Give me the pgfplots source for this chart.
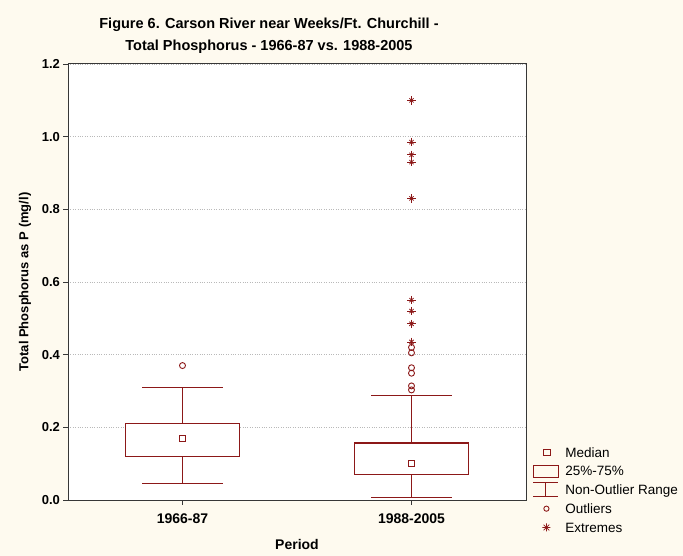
\documentclass[border=0pt]{standalone}
\usepackage{fontspec}
\setmainfont{Liberation Sans}
\usepackage{pgfplots}
\pgfplotsset{compat=1.18}
\usepgfplotslibrary{statistics}
\definecolor{bg}{RGB}{254,250,239}
\definecolor{boxred}{RGB}{140,24,24}
\definecolor{gridgray}{RGB}{185,185,185}
\definecolor{framec}{RGB}{55,55,55}
\begin{document}
\begin{tikzpicture}
\fill[bg] (-68bp,-56bp) rectangle (615bp,500bp);
\begin{axis}[
  at={(0,0)}, anchor=south west,
  scale only axis, width=458bp, height=436bp,
  axis background/.style={fill=white},
  xmin=-0.5, xmax=1.5, ymin=0, ymax=1.2,
  xtick={0,1}, xticklabels={1966-87,1988-2005},
  ytick={0,0.2,0.4,0.6,0.8,1.0,1.2},
  /pgf/number format/assume math mode=true,
  yticklabel style={font=\bfseries\fontsize{13bp}{15bp}\selectfont,
    /pgf/number format/.cd, fixed, fixed zerofill, precision=1},
  xticklabel style={font=\bfseries\fontsize{14bp}{16bp}\selectfont, yshift=-6bp},
  xtick pos=bottom, ytick pos=left, tick align=outside,
  major tick length=4.5bp,
  tick style={framec, line width=0.8pt},
  axis line style={framec, line width=1pt},
  ymajorgrids, major grid style={gridgray, dotted, line width=0.6pt},
  every axis y label/.style={at={([xshift=-43bp]rel axis cs:0,0.5)}, rotate=90, anchor=center},
  every axis x label/.style={at={([yshift=-44bp]rel axis cs:0.5,0)}, anchor=center},
  ylabel={\bfseries\fontsize{13bp}{15bp}\selectfont Total Phosphorus as P (mg/l)},
  xlabel={\bfseries\fontsize{14bp}{16bp}\selectfont Period},
  legend style={at={(1.015,0.131)}, anchor=north west, draw=none, fill=none,
    inner sep=0pt, outer sep=0pt, row sep=0pt,
    nodes={inner sep=0pt, text depth=0pt},
    font=\fontsize{13.5bp}{15bp}\selectfont},
  legend cell align=left,
  boxplot/draw direction=y,
]
\addlegendimage{legend image code/.code={\path[draw=none,fill=none] (0bp,-9.4bp) rectangle (32bp,9.4bp);
  \draw[boxred, line width=0.9pt, fill=none] (10.2bp,-3.2bp) rectangle (16.6bp,3.2bp);}}
\addlegendentry{Median}
\addlegendimage{legend image code/.code={\path[draw=none,fill=none] (0bp,-9.4bp) rectangle (32bp,9.4bp);
  \draw[boxred, line width=1.1pt, fill=none] (0bp,-6bp) rectangle (25bp,6bp);}}
\addlegendentry{25\%-75\%}
\addlegendimage{legend image code/.code={\path[draw=none,fill=none] (0bp,-9.4bp) rectangle (32bp,9.4bp);
  \draw[boxred, line width=1.1pt] (0bp,7bp) -- (25bp,7bp) (12.5bp,7bp) -- (12.5bp,-7bp) (0bp,-7bp) -- (25bp,-7bp);}}
\addlegendentry{Non-Outlier Range}
\addlegendimage{legend image code/.code={\path[draw=none,fill=none] (0bp,-9.4bp) rectangle (32bp,9.4bp);
  \draw[boxred, line width=0.9pt, fill=none] (13bp,0bp) circle (2.6bp);}}
\addlegendentry{Outliers}
\addlegendimage{legend image code/.code={\path[draw=none,fill=none] (0bp,-9.4bp) rectangle (32bp,9.4bp);
  \draw[boxred, line width=0.8pt] (9bp,0bp) -- (17bp,0bp) (13bp,-4bp) -- (13bp,4bp)
     (10.2bp,-2.8bp) -- (15.8bp,2.8bp) (10.2bp,2.8bp) -- (15.8bp,-2.8bp);}}
\addlegendentry{Extremes}
% boxes
\addplot[draw=boxred, line width=1.1pt, fill=white, forget plot,
  boxplot/draw/median/.code={},
  boxplot prepared={draw position=0, lower whisker=0.045, lower quartile=0.12,
    median=0.17, upper quartile=0.21, upper whisker=0.31,
    box extend=0.5, whisker extend=0.35}] coordinates {};
\addplot[draw=boxred, line width=1.1pt, fill=white, forget plot,
  boxplot/draw/median/.code={},
  boxplot prepared={draw position=1, lower whisker=0.008, lower quartile=0.07,
    median=0.10, upper quartile=0.157, upper whisker=0.288,
    box extend=0.5, whisker extend=0.35}] coordinates {};
% medians
\addplot[only marks, forget plot, mark=square, mark size=3bp, draw=boxred,
  mark options={draw=boxred, fill=none, line width=0.9pt}] coordinates {(0,0.17) (1,0.10)};
% outliers
\addplot[only marks, forget plot, mark=o, mark size=3bp, draw=boxred,
  mark options={draw=boxred, fill=none, line width=0.9pt}] coordinates {(0,0.37) (1,0.42) (1,0.405) (1,0.364) (1,0.349) (1,0.314) (1,0.303)};
% extremes
\addplot[only marks, forget plot, mark=+, mark size=4.2bp, draw=boxred,
  mark options={draw=boxred, line width=0.8pt}] coordinates {(1,1.10) (1,0.985) (1,0.95) (1,0.93) (1,0.83) (1,0.55) (1,0.52) (1,0.485) (1,0.435)};
\addplot[only marks, forget plot, mark=x, mark size=3bp, draw=boxred,
  mark options={draw=boxred, line width=0.8pt}] coordinates {(1,1.10) (1,0.985) (1,0.95) (1,0.93) (1,0.83) (1,0.55) (1,0.52) (1,0.485) (1,0.435)};
\end{axis}
\node[align=center, font=\bfseries\fontsize{14.5bp}{21.5bp}\selectfont] at (269bp-68bp,464bp)
  {Figure 6. Carson River near Weeks/Ft. Churchill -\\Total Phosphorus - 1966-87 vs. 1988-2005};
\end{tikzpicture}
\end{document}
